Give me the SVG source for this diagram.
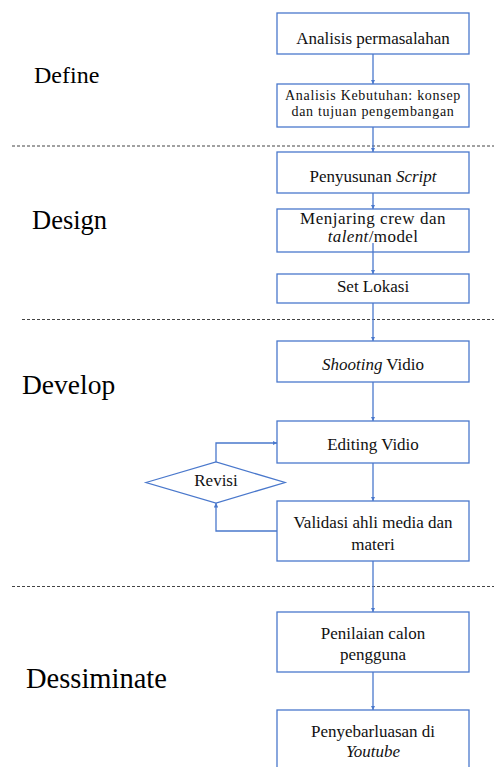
<svg xmlns="http://www.w3.org/2000/svg" width="494" height="767" viewBox="0 0 494 767">
<defs>
<style>
.box{fill:#fff;stroke:#4a78cc;stroke-width:1.3}
.t{fill:#111;text-anchor:middle;font-size:17px}
.s{font-size:14px;letter-spacing:0.7px}
.ph{fill:#000}
.c{fill:none;stroke:#4a78cc;stroke-width:1.3}
.d{stroke:#444;stroke-width:1;stroke-dasharray:3 2}
</style>
<marker id="ah" viewBox="0 0 10 10" refX="10" refY="5" markerWidth="4.5" markerHeight="4.5" orient="auto" markerUnits="userSpaceOnUse">
<path d="M0,0 L10,5 L0,10 z" fill="#4a78cc"/>
</marker>
</defs>
<rect width="494" height="767" fill="#fff"/>
<g id="separators">
<line class="d" x1="12" y1="146" x2="494" y2="146"/>
<line class="d" x1="22" y1="319.5" x2="494" y2="319.5"/>
<line class="d" x1="12" y1="586.5" x2="494" y2="586.5"/>
</g>
<g id="phases" font-family="'Liberation Serif', 'Times New Roman', 'DejaVu Serif', serif">
<text class="ph" x="34" y="83" font-size="24">Define</text>
<text class="ph" x="32" y="229" font-size="26.5">Design</text>
<text class="ph" x="22" y="394" font-size="27.5">Develop</text>
<text class="ph" x="26" y="688" font-size="28.5">Dessiminate</text>
</g>
<g id="connectors">
<line class="c" x1="373" y1="54" x2="373" y2="84" marker-end="url(#ah)"/>
<line class="c" x1="373" y1="127" x2="373" y2="152" marker-end="url(#ah)"/>
<line class="c" x1="373" y1="193" x2="373" y2="209" marker-end="url(#ah)"/>
<line class="c" x1="373" y1="243" x2="373" y2="274" marker-end="url(#ah)"/>
<line class="c" x1="373" y1="303" x2="373" y2="341" marker-end="url(#ah)"/>
<line class="c" x1="373" y1="382" x2="373" y2="421" marker-end="url(#ah)"/>
<line class="c" x1="373" y1="463" x2="373" y2="501" marker-end="url(#ah)"/>
<line class="c" x1="373" y1="561" x2="373" y2="612" marker-end="url(#ah)"/>
<line class="c" x1="373" y1="672" x2="373" y2="710" marker-end="url(#ah)"/>
<polyline class="c" points="216,462 216,443 277,443" marker-end="url(#ah)"/>
<polyline class="c" points="277,531 216,531 216,503" marker-end="url(#ah)"/>
</g>
<g id="nodes" font-family="'Liberation Serif', 'Times New Roman', 'DejaVu Serif', serif">
<g id="n1"><rect class="box" x="277" y="13" width="192" height="41"/><text class="t" x="373" y="43.5">Analisis permasalahan</text></g>
<g id="n2"><rect class="box" x="277" y="84" width="192" height="43"/><text class="t s" x="373" y="100">Analisis Kebutuhan: konsep</text><text class="t s" x="373" y="115.5">dan tujuan pengembangan</text></g>
<g id="n3"><rect class="box" x="277" y="152" width="192" height="41"/><text class="t" x="373" y="182">Penyusunan <tspan font-style="italic">Script</tspan></text></g>
<g id="n4"><rect class="box" x="277" y="209" width="192" height="43"/><text class="t" x="373" y="223.5" font-size="14.5" letter-spacing="0.5">Menjaring crew dan</text><text class="t" x="373" y="241.5" font-size="14.5" letter-spacing="0.4"><tspan font-style="italic">talent</tspan>/model</text></g>
<g id="n5"><rect class="box" x="277" y="274" width="192" height="29"/><text class="t" x="373" y="292">Set Lokasi</text></g>
<g id="n6"><rect class="box" x="277" y="341" width="192" height="41"/><text class="t" x="373" y="370"><tspan font-style="italic">Shooting</tspan> Vidio</text></g>
<g id="n7"><rect class="box" x="277" y="421" width="192" height="42"/><text class="t" x="373" y="450" font-size="17.5">Editing Vidio</text></g>
<g id="n8"><rect class="box" x="277" y="501" width="192" height="60"/><text class="t" x="373" y="527.5" font-size="17.5">Validasi ahli media dan</text><text class="t" x="373" y="549.5" font-size="17.5">materi</text></g>
<g id="n9"><polygon class="box" points="146,482.5 216,462 285,482.5 216,503"/><text class="t" x="216" y="486" font-size="14">Revisi</text></g>
<g id="n10"><rect class="box" x="277" y="612" width="192" height="60"/><text class="t" x="373" y="638.5" font-size="17.5">Penilaian calon</text><text class="t" x="373" y="660" font-size="17.5">pengguna</text></g>
<g id="n11"><rect class="box" x="277" y="710" width="192" height="62"/><text class="t" x="373" y="737" font-size="17.5">Penyebarluasan di</text><text class="t" x="373" y="757" font-size="17.5" font-style="italic">Youtube</text></g>
</g>
<line class="c" x1="373" y1="243" x2="373" y2="252"/>
</svg>
